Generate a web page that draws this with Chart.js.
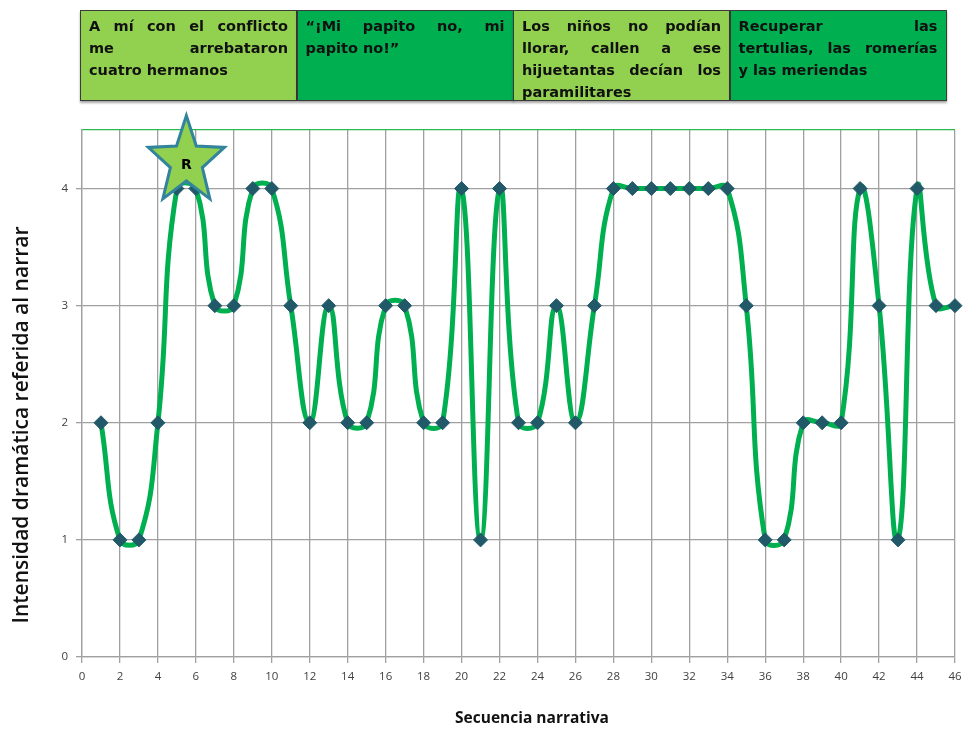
<!DOCTYPE html>
<html lang="es">
<head>
<meta charset="UTF-8">
<title>Intensidad dramática</title>
<script src="https://cdn.jsdelivr.net/npm/chart.js"></script>
<style>
    html, body { margin: 0; padding: 0; background: #fff; }
    #wrap { position: relative; width: 963px; height: 730px; }
    #chart { position: absolute; left: 0; top: 0; }
    .box {
        position: absolute;
        top: 10px;
        height: 91px;
        width: 217px;
        box-sizing: border-box;
        border: 1.5px solid #3a3a3a;
        padding: 4px 8px 0 8px;
        font-family: 'DejaVu Sans', sans-serif;
        font-weight: bold;
        font-size: 14.5px;
        line-height: 22px;
        color: #111;
        box-shadow: 0 2px 2px rgba(0,0,0,0.35);
    }
    .box div { text-align: justify; text-align-last: justify; white-space: nowrap; }
    .box div.last { text-align-last: left; }
    .light { background: #92d050; }
    .dark { background: #00b050; }
</style>
</head>
<body>
<div id="wrap">
    <canvas id="chart" width="963" height="730"></canvas>
</div>
<script>
    // data
    const secuencia = [1,2,3,4,5,6,7,8,9,10,11,12,13,14,15,16,17,18,19,20,21,22,23,
                       24,25,26,27,28,29,30,31,32,33,34,35,36,37,38,39,40,41,42,43,44,45,46];
    const intensidad = [2,1,1,2,4,4,3,3,4,4,3,2,3,2,2,3,3,2,2,4,1,4,2,
                        2,3,2,3,4,4,4,4,4,4,4,3,1,1,2,2,2,4,3,1,4,3,3];
    const yTicks = [0, 1, 2, 3, 4];
    const starPoint = { x: 5.5, y: 4.23, label: 'R' };
    const xTitle = 'Secuencia narrativa';
    const yTitle = 'Intensidad dramática referida al narrar';

    const boxLines = [
        ['A mí con el conflicto', 'me arrebataron', 'cuatro hermanos'],
        ['“¡Mi papito no, mi', 'papito no!”'],
        ['Los niños no podían', 'llorar, callen a ese', 'hijuetantas decían los', 'paramilitares'],
        ['Recuperar las', 'tertulias, las romerías', 'y las meriendas']
    ];
    const boxStyles = ['light', 'dark', 'light', 'dark'];

    // top boxes
    const wrap = document.getElementById('wrap');
    boxLines.forEach((lines, i) => {
        const b = document.createElement('div');
        b.className = 'box ' + boxStyles[i];
        b.style.left = (80 + i * 216.5) + 'px';
        lines.forEach((t, j) => {
            const d = document.createElement('div');
            d.textContent = t;
            if (j === lines.length - 1) d.className = 'last';
            b.appendChild(d);
        });
        wrap.appendChild(b);
    });

    const starPlugin = {
        id: 'star',
        afterDatasetsDraw(chart) {
            const c = chart.ctx;
            const cx = chart.scales.x.getPixelForValue(starPoint.x);
            const cy = chart.scales.y.getPixelForValue(starPoint.y);
            const rx = 40, ry = 46, inner = 0.42;
            c.save();
            c.beginPath();
            for (let i = 0; i < 10; i++) {
                const a = -Math.PI / 2 + i * Math.PI / 5;
                const r = i % 2 === 0 ? 1 : inner;
                const px = cx + Math.cos(a) * rx * r;
                const py = cy + Math.sin(a) * ry * r;
                if (i === 0) c.moveTo(px, py); else c.lineTo(px, py);
            }
            c.closePath();
            c.fillStyle = '#92d050';
            c.fill();
            c.lineWidth = 3;
            c.strokeStyle = '#31849b';
            c.stroke();
            c.fillStyle = '#000';
            c.font = 'bold 14px "DejaVu Sans"';
            c.textAlign = 'center';
            c.textBaseline = 'middle';
            c.fillText(starPoint.label, cx, cy + 4);
            c.restore();
        }
    };

    // axis titles, placed a bit off-centre like the original
    const titlesPlugin = {
        id: 'titles',
        afterDraw(chart) {
            const c = chart.ctx;
            c.save();
            c.fillStyle = '#111';
            c.textAlign = 'center';
            c.textBaseline = 'middle';
            c.font = 'bold 15.5px "Open Sans"';
            c.fillText(xTitle, 532, 719);
            c.translate(22, 425);
            c.rotate(-Math.PI / 2);
            c.font = '600 21px "Open Sans"';
            c.fillText(yTitle, 0, 0);
            c.restore();
        }
    };

    new Chart(document.getElementById('chart'), {
        type: 'line',
        data: {
            datasets: [{
                data: secuencia.map((s, i) => ({ x: s, y: intensidad[i] })),
                borderColor: '#00b050',
                borderWidth: 5,
                tension: 0.45,
                pointStyle: 'rectRot',
                pointRadius: 7,
                pointBackgroundColor: '#215968',
                pointBorderColor: '#215968',
                pointBorderWidth: 1,
                clip: false
            }]
        },
        options: {
            responsive: false,
            animation: false,
            layout: { padding: { top: 130, left: 52, right: 8, bottom: 0 } },
            plugins: { legend: { display: false }, tooltip: { enabled: false } },
            scales: {
                x: {
                    type: 'linear',
                    min: 0,
                    max: 46,
                    afterFit: s => { s.height = 73; s.paddingRight = 0; s.paddingLeft = 0; },
                    ticks: { stepSize: 2, color: '#404040', font: { family: 'Open Sans', size: 11.5 }, padding: 7, maxRotation: 0 },
                    grid: { color: '#a0a0a0', lineWidth: 1.3, tickLength: 6 },
                    border: { color: '#a0a0a0', width: 1.3 }
                },
                y: {
                    min: 0,
                    max: 4.5,
                    afterFit: s => { s.width = 30; },
                    afterBuildTicks: s => {
                        s.ticks = yTicks.map(v => ({ value: v })).concat([{ value: 4.5 }]);
                    },
                    ticks: {
                        color: '#404040', font: { family: 'Open Sans', size: 11.5 }, padding: 8,
                        callback: v => yTicks.includes(v) ? v : ''
                    },
                    grid: {
                        color: c => c.tick && c.tick.value === 4.5 ? '#2db84d' : '#a0a0a0',
                        tickColor: c => c.tick && c.tick.value === 4.5 ? 'rgba(0,0,0,0)' : '#a0a0a0',
                        lineWidth: 1.3,
                        tickLength: 6
                    },
                    border: { color: '#a0a0a0', width: 1.3 }
                }
            }
        },
        plugins: [starPlugin, titlesPlugin]
    });
</script>
</body>
</html>
